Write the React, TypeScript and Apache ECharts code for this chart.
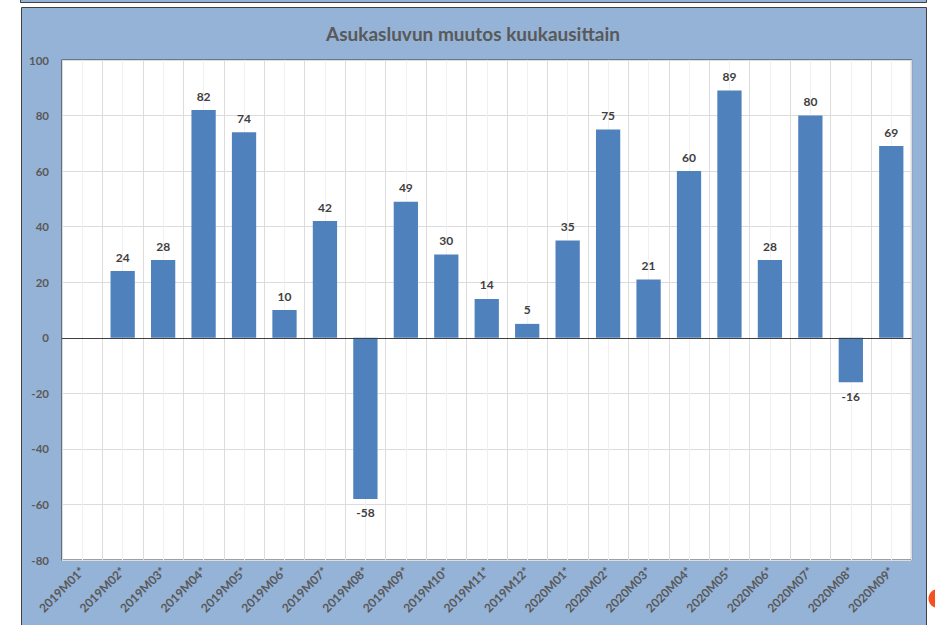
import React, { useEffect, useRef } from "react";
import * as echarts from "echarts";

const categories = [
  "2019M01*", "2019M02*", "2019M03*", "2019M04*", "2019M05*", "2019M06*", "2019M07*",
  "2019M08*", "2019M09*", "2019M10*", "2019M11*", "2019M12*", "2020M01*", "2020M02*",
  "2020M03*", "2020M04*", "2020M05*", "2020M06*", "2020M07*", "2020M08*", "2020M09*",
];
const values: (number | null)[] = [
  null, 24, 28, 82, 74, 10, 42, -58, 49, 30, 14, 5, 35, 75, 21, 60, 89, 28, 80, -16, 69,
];
const titleText = "Asukasluvun muutos kuukausittain";
const yMin = -80;
const yMax = 100;
const yStep = 20;

const FONT = "Lato";
const TEXT = "#595959";

export default function App() {
  const ref = useRef<HTMLDivElement>(null);
  useEffect(() => {
    if (!ref.current) return;
    const chart = echarts.init(ref.current, null, { renderer: "svg" });
    chart.setOption({
      animation: false,
      backgroundColor: "#ffffff",
      graphic: [
        {
          type: "rect",
          z: -10,
          shape: { x: 20.5, y: -6, width: 906, height: 8.5 },
          style: { fill: "#95B3D7", stroke: "#404040", lineWidth: 1 },
          silent: true,
        },
        {
          type: "rect",
          z: -10,
          shape: { x: 21.5, y: 7.5, width: 905, height: 630 },
          style: { fill: "#95B3D7", stroke: "#404040", lineWidth: 1 },
          silent: true,
        },
        {
          type: "circle",
          z: -5,
          shape: { cx: 938, cy: 598.5, r: 9.5 },
          style: { fill: "#F4511E" },
          silent: true,
        },
      ],
      title: {
        text: titleText,
        left: 468,
        top: 19,
        textAlign: "center",
        textStyle: {
          fontFamily: FONT,
          fontSize: 19,
          fontWeight: "bold",
          color: TEXT,
        },
      },
      grid: {
        left: 62,
        top: 60,
        right: 23.5,
        bottom: 65,
        show: true,
        backgroundColor: "#ffffff",
        borderColor: "#404040",
        borderWidth: 1.2,
      },
      xAxis: [
        {
          type: "category",
          data: categories,
          position: "bottom",
          axisLine: { show: false, onZero: false },
          axisTick: { show: false },
          splitLine: { show: true, interval: 0, lineStyle: { color: "#dcdcdc", width: 1 } },
          axisLabel: {
            interval: 0,
            rotate: 45,
            margin: 9,
            fontFamily: FONT,
            fontSize: 12,
            fontWeight: "bold",
            color: TEXT,
          },
        },
        {
          type: "value",
          min: 0,
          max: categories.length,
          interval: 1,
          show: true,
          position: "top",
          axisLine: { show: false },
          axisTick: { show: false },
          axisLabel: { show: false },
          splitLine: { show: false },
          minorTick: { show: false, splitNumber: 2 },
          minorSplitLine: { show: true, lineStyle: { color: "#f0f0f0", width: 1 } },
        },
      ],
      yAxis: {
        type: "value",
        min: yMin,
        max: yMax,
        interval: yStep,
        axisLine: { show: false },
        axisTick: { show: false },
        splitLine: { show: true, lineStyle: { color: "#dcdcdc", width: 1 } },
        axisLabel: {
          margin: 13,
          fontFamily: FONT,
          fontSize: 11.5,
          fontWeight: "bold",
          color: TEXT,
        },
      },
      series: [
        {
          type: "bar",
          xAxisIndex: 0,
          data: values,
          barWidth: "60%",
          itemStyle: { color: "#4F81BD" },
          label: {
            show: true,
            position: "outside",
            distance: 8,
            fontFamily: FONT,
            fontSize: 12,
            fontWeight: "bold",
            color: "#404040",
          },
          markLine: {
            silent: true,
            symbol: "none",
            label: { show: false },
            lineStyle: { color: "#404040", width: 1.2, type: "solid" },
            data: [{ yAxis: 0 }],
          },
        },
      ],
    });
    return () => chart.dispose();
  }, []);
  return (
    <div
      ref={ref}
      style={{ position: "fixed", left: 0, top: 0, width: 935, height: 625 }}
    />
  );
}
